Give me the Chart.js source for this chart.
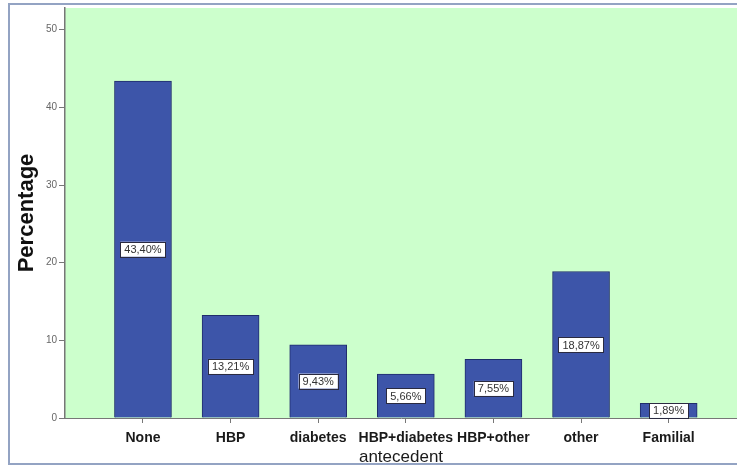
<!DOCTYPE html>
<html>
<head>
<meta charset="utf-8">
<script src="https://cdn.jsdelivr.net/npm/chart.js@4"></script>
<style>
  html, body { margin: 0; padding: 0; background: #fff; overflow: hidden; }
  #frame { position: absolute; left: 8px; top: 3px; width: 760px; height: 458px; border: 2px solid #93a3c3; }
  #wrap { position: absolute; left: 0; top: 0; width: 737px; height: 468px; }
</style>
</head>
<body>
<div id="frame"></div>
<div id="wrap"><canvas id="grafico" width="737" height="468"></canvas></div>
<script>
const categorias = ['None', 'HBP', 'diabetes', 'HBP+diabetes', 'HBP+other', 'other', 'Familial'];
const percentuais = [43.40, 13.21, 9.43, 5.66, 7.55, 18.87, 1.89];
const ticksY = [0, 10, 20, 30, 40, 50];

// fundo verde da área do gráfico
const fundoPlugin = {
  id: 'fundo',
  beforeDraw(chart) {
    const { ctx, chartArea: a } = chart;
    ctx.save();
    ctx.fillStyle = '#ccffcc';
    ctx.fillRect(a.left, a.top, a.right - a.left, a.bottom - a.top);
    ctx.restore();
  }
};

// rótulos "43,40%" no meio de cada barra
const rotulosPlugin = {
  id: 'rotulos',
  afterDatasetsDraw(chart) {
    const ctx = chart.ctx;
    const meta = chart.getDatasetMeta(0);
    ctx.save();
    ctx.font = '11px "Liberation Sans", Arial, sans-serif';
    ctx.textAlign = 'center';
    ctx.textBaseline = 'middle';
    meta.data.forEach((barra, i) => {
      const texto = percentuais[i].toFixed(2).replace('.', ',') + '%';
      const cx = barra.x;
      const cy = (barra.y + barra.base) / 2;
      const w = ctx.measureText(texto).width + 8;
      const h = 15;
      ctx.fillStyle = '#ffffff';
      ctx.fillRect(cx - w / 2, cy - h / 2, w, h);
      ctx.strokeStyle = '#2a2a40';
      ctx.lineWidth = 1;
      ctx.strokeRect(Math.round(cx - w / 2) + 0.5, Math.round(cy - h / 2) + 0.5, Math.round(w), h);
      ctx.fillStyle = '#333333';
      ctx.fillText(texto, cx, cy + 1);
    });
    ctx.restore();
  }
};

const ctx = document.getElementById('grafico').getContext('2d');

new Chart(ctx, {
  type: 'bar',
  data: {
    datasets: [{
      data: categorias.map((c, i) => ({ x: i, y: percentuais[i] })),
      backgroundColor: '#3d55a9',
      borderColor: '#1f2d6b',
      borderWidth: 1,
      barThickness: 57
    }]
  },
  options: {
    responsive: false,
    animation: false,
    layout: { padding: { top: 7, left: 0, right: 0, bottom: 0 } },
    plugins: {
      legend: { display: false },
      tooltip: { enabled: false }
    },
    scales: {
      x: {
        type: 'linear',
        min: -0.89,
        max: 6.78,
        offset: false,
        afterFit(scale) { scale.height = 50; },
        grid: { drawOnChartArea: false, offset: false, tickLength: 5, color: '#777' },
        border: { color: '#777', width: 1 },
        ticks: {
          stepSize: 1,
          includeBounds: false,
          autoSkip: false,
          maxRotation: 0,
          padding: 7,
          color: '#1a1a1a',
          font: { family: '"Liberation Sans", Arial, sans-serif', size: 14, weight: 'bold' },
          callback: v => Number.isInteger(v) ? (categorias[v] || '') : ''
        },
        title: {
          display: true,
          text: 'antecedent',
          color: '#1a1a1a',
          padding: { top: 0, bottom: 0 },
          font: { family: '"Liberation Sans", Arial, sans-serif', size: 17 }
        }
      },
      y: {
        min: 0,
        max: 52.8,
        afterFit(scale) { scale.width = 65; },
        afterBuildTicks(scale) { scale.ticks = ticksY.map(v => ({ value: v })); },
        grid: { drawOnChartArea: false, tickLength: 6, color: '#777' },
        border: { color: '#777', width: 1.5 },
        ticks: {
          padding: 2,
          color: '#666',
          font: { family: '"Liberation Sans", Arial, sans-serif', size: 10 }
        },
        title: {
          display: true,
          text: 'Percentage',
          color: '#111',
          padding: { top: 14, bottom: 0 },
          font: { family: '"Liberation Sans", Arial, sans-serif', size: 22, weight: 'bold' }
        }
      }
    }
  },
  plugins: [fundoPlugin, rotulosPlugin]
});
</script>
</body>
</html>
